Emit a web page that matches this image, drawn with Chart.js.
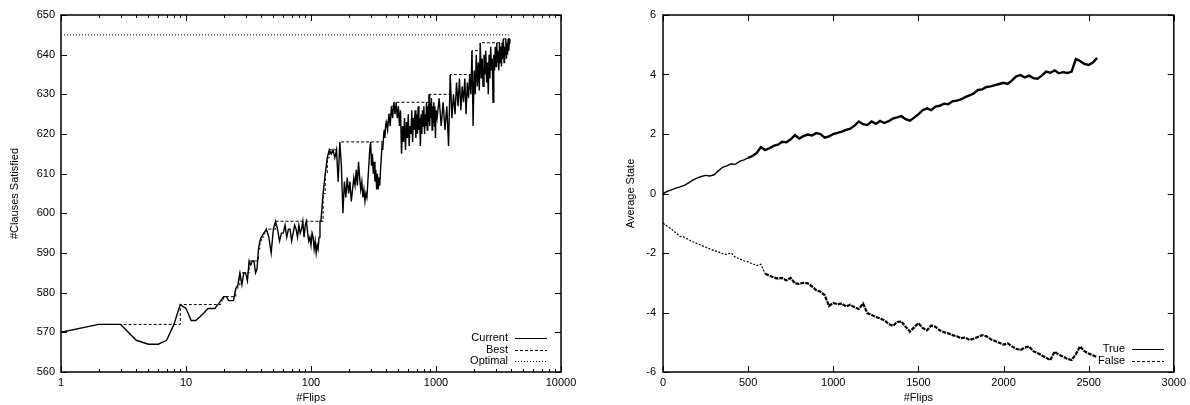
<!DOCTYPE html>
<html><head><meta charset="utf-8">
<script src="https://cdn.jsdelivr.net/npm/chart.js@4.4.0/dist/chart.umd.min.js"></script>
<style>
html,body{margin:0;padding:0;background:#fff;}
#wrap{position:relative;width:1190px;height:405px;overflow:hidden;}
#c1{position:absolute;left:0;top:0;}
#c2{position:absolute;left:600px;top:0;}
</style></head><body>
<div id="wrap"><canvas id="c1" width="595" height="405"></canvas><canvas id="c2" width="590" height="405"></canvas></div>
<script>
// ---------- Left chart data ----------
const currentFlips = [1,2,3,4,5,6,7,8,9,10,11,12,13,14,15,16,17,18,19,20,21,22,23,24,25,26,27,28,29,30,31,32,33,34,35,36,37,38,39,40,
42,44,46,48,50,52,54,56,58,60,62,64,66,68,70,72,74,76,78,80,82,84,86,88,90,92,94,96,98,100,102,104,106,108,110,112,114,116,118,120,
125,130,135,140,145,150,155,160,165,170,175,180,185,190,195,200,205,210,215,220,225,230,235,240,245,250,255,260,265,270,275,280,285,290,295,300,305,310,315,320,325,330,335,340,345,350,355,360,365,370,375,380,385,390,395,400,
410,420,430,440,450,460,470,480,490,500,510,520,530,540,550,560,570,580,590,600,610,620,630,640,650,660,670,680,690,700,710,720,730,740,750,760,770,780,790,800,810,820,830,840,850,860,870,880,890,900,910,920,930,940,950,960,970,980,990,1000,
1020,1060,1100,1140,1180,1220,1260,1300,1340,1380,1420,1460,1500,1540,1580,1620,1660,1700,1740,1780,1820,1860,1900,1940,1980,2020,2060,2100,2140,2180,2220,2260,2300,2340,2380,2420,2460,2500,2540,2580,2620,2660,2700,2740,2780,2820,2860,2900,2940,2980,3020,3060,3100,3140,3180,3220,3260,3300,3340,3380,3420,3460,3500,3540,3580,3620,3660,3700,3740,3780,3820,3860,3900];
const currentValues = [570,572,572,568,567,567,568,572,577,576,573,573,574,575,576,576,576,577,578,579,579,578,578,578,581,582,585,582,585,585,583,588,587,588,588,585,586,591,593,594,
595,596,594,590,596,598,596,593,595,595,597,594,596,596,593,595,597,596,594,597,595,596,598,594,597,598,595,593,594,592,595,594,591,593,590,592,591,594,598,598,
605,610,614,616,615,616,614,616,608,618,612,600,608,604,609,605,608,603,606,609,607,611,607,613,609,606,608,604,606,603,605,604,608,612,616,618,612,615,610,613,608,611,606,610,606,609,607,611,614,617,616,619,621,619,622,623,
621,625,622,627,624,628,625,628,624,627,622,626,615,622,618,624,616,623,619,625,617,622,620,626,618,624,621,626,619,625,620,627,621,624,617,625,620,626,622,627,620,625,622,628,621,627,623,630,622,628,624,629,621,627,623,628,622,627,619,626,
624,629,622,628,621,627,617,635,624,630,625,633,627,634,626,632,628,634,625,633,629,635,630,641,622,636,630,640,632,638,631,643,634,639,632,640,635,641,633,638,630,640,634,642,636,639,628,640,636,642,637,643,638,641,636,643,638,642,637,643,639,644,638,642,640,644,639,643,640,644,641,643,644];
const bestFlips  = [2,9,19,20,25,26,27,32,38,39,40,42,44,52,125,130,135,140,170,380,385,395,400,420,440,460,880,1300,1940,2260,3460,3900];
const bestValues = [572,577,578,579,581,582,585,588,591,593,594,595,596,598,605,610,614,616,618,619,621,622,623,625,627,628,630,635,641,643,644,644];
const optimalFlips  = [1,3900];
const optimalValues = [645,645];
const leftXMajor = [1,10,100,1000,10000];
const leftXMinor = [2,3,4,5,6,7,8,9,20,30,40,50,60,70,80,90,200,300,400,500,600,700,800,900,2000,3000,4000,5000,6000,7000,8000,9000];
const leftYTicks = [560,570,580,590,600,610,620,630,640,650];

// ---------- Right chart data ----------
const stateFlips = [0,25,50,75,100,125,150,175,200,225,250,275,300,325,350,375,400,425,450,475,500,525,550,575,600,625,650,675,700,725,750,775,800,825,850,875,900,925,950,975,1000,1025,1050,1075,1100,1125,1150,1175,1200,1225,1250,1275,1300,1325,1350,1375,1400,1425,1450,1475,1500,1525,1550,1575,1600,1625,1650,1675,1700,1725,1750,1775,1800,1825,1850,1875,1900,1925,1950,1975,2000,2025,2050,2075,2100,2125,2150,2175,2200,2225,2250,2275,2300,2325,2350,2375,2400,2425,2450,2475,2500,2525,2550];
const trueValues = [0.00,0.07,0.12,0.18,0.22,0.27,0.36,0.45,0.52,0.57,0.61,0.59,0.63,0.76,0.88,0.93,1.00,0.98,1.08,1.13,1.20,1.26,1.36,1.56,1.46,1.52,1.60,1.64,1.74,1.72,1.82,1.96,1.85,1.93,1.98,1.95,2.03,2.00,1.88,1.92,2.00,2.04,2.08,2.14,2.18,2.28,2.42,2.33,2.30,2.42,2.34,2.44,2.37,2.43,2.52,2.56,2.60,2.50,2.45,2.55,2.66,2.80,2.86,2.80,2.92,2.95,3.02,3.00,3.10,3.12,3.16,3.24,3.30,3.36,3.48,3.50,3.58,3.60,3.64,3.68,3.72,3.68,3.80,3.94,3.98,3.90,3.96,3.88,3.86,3.96,4.10,4.06,4.14,4.04,4.08,4.05,4.10,4.52,4.45,4.36,4.32,4.40,4.56];
const falseValues = [-1.00,-1.10,-1.20,-1.32,-1.44,-1.47,-1.55,-1.62,-1.68,-1.74,-1.80,-1.86,-1.92,-1.96,-2.02,-2.05,-2.00,-2.14,-2.20,-2.26,-2.30,-2.36,-2.42,-2.38,-2.70,-2.76,-2.82,-2.86,-2.84,-2.92,-2.84,-3.02,-3.04,-3.00,-3.02,-3.12,-3.25,-3.30,-3.42,-3.78,-3.68,-3.72,-3.70,-3.80,-3.74,-3.82,-3.88,-3.70,-4.02,-4.08,-4.15,-4.20,-4.26,-4.38,-4.45,-4.32,-4.30,-4.48,-4.64,-4.50,-4.36,-4.52,-4.60,-4.44,-4.48,-4.60,-4.66,-4.70,-4.76,-4.80,-4.86,-4.84,-4.92,-4.88,-4.82,-4.76,-4.80,-4.90,-4.96,-5.02,-5.08,-5.04,-5.14,-5.22,-5.26,-5.18,-5.14,-5.30,-5.36,-5.44,-5.52,-5.60,-5.32,-5.42,-5.48,-5.56,-5.60,-5.40,-5.14,-5.30,-5.38,-5.44,-5.50];
const rightXTicks = [0,500,1000,1500,2000,2500,3000];
const rightYTicks = [-6,-4,-2,0,2,4,6];

// ---------- helpers ----------
const FONT = '"Liberation Sans", Arial, Helvetica, sans-serif';
Chart.defaults.font.family = FONT;
Chart.defaults.font.size = 11;
Chart.defaults.color = '#000';
const pts = (xs, ys) => xs.map((x, i) => ({x: x, y: ys[i]}));

const gnuFrame = {
  id: 'gnuFrame',
  afterDatasetsDraw(chart, args, o) {
    const {ctx, chartArea: a} = chart;
    const xs = chart.scales.x, ys = chart.scales.y;
    ctx.save();
    ctx.strokeStyle = '#000';
    ctx.setLineDash([]);
    ctx.lineWidth = 1;
    ctx.beginPath();
    const vt = (v, L) => {
      const p = Math.round(xs.getPixelForValue(v)) + 0.5;
      ctx.moveTo(p, a.bottom); ctx.lineTo(p, a.bottom - L);
      ctx.moveTo(p, a.top); ctx.lineTo(p, a.top + L);
    };
    o.xMajor.forEach(v => vt(v, 6));
    (o.xMinor || []).forEach(v => vt(v, 3));
    o.yTicks.forEach(v => {
      const p = Math.round(ys.getPixelForValue(v)) + 0.5;
      ctx.moveTo(a.left, p); ctx.lineTo(a.left + 6, p);
      ctx.moveTo(a.right, p); ctx.lineTo(a.right - 6, p);
    });
    ctx.stroke();
    ctx.lineWidth = 1.5;
    ctx.strokeRect(a.left, a.top, a.right - a.left, a.bottom - a.top);
    // legend
    ctx.font = '11px ' + FONT;
    ctx.fillStyle = '#000';
    ctx.textAlign = 'right';
    ctx.textBaseline = 'middle';
    chart.data.datasets.forEach((ds, i) => {
      const y = o.legend.y + i * o.legend.dy;
      ctx.fillText(ds.label, o.legend.x, y);
      ctx.lineWidth = 1;
      ctx.setLineDash(o.legend.dashes[i]);
      ctx.beginPath();
      ctx.moveTo(o.legend.x + 7, Math.round(y) + 0.5);
      ctx.lineTo(o.legend.x + 39, Math.round(y) + 0.5);
      ctx.stroke();
    });
    ctx.restore();
  }
};

function commonScales(xCfg, yCfg, yTitle, yTitlePad, yWidth) {
  return {
    x: Object.assign({
      grid: {display: false, drawTicks: false},
      border: {display: false},
      ticks: {padding: 4, maxRotation: 0, autoSkip: false, color: '#000', font: {size: 11}, callback: (v) => String(v)},
      title: {display: true, text: '#Flips', padding: {top: 0, bottom: 0}, color: '#000', font: {size: 11}},
      afterFit(s) { s.height = 33; }
    }, xCfg),
    y: Object.assign({
      grid: {display: false, drawTicks: false},
      border: {display: false},
      ticks: {padding: 6, color: '#000', font: {size: 11}, callback: (v) => String(v)},
      title: {display: true, text: yTitle, padding: {top: yTitlePad, bottom: 0}, color: '#000', font: {size: 11}},
      afterFit(s) { s.width = yWidth; }
    }, yCfg)
  };
}

// ---------- Left chart ----------
const leftScales = commonScales(
  {type: 'logarithmic', min: 1, max: 10000,
   afterBuildTicks(s) { s.ticks = leftXMajor.map(v => ({value: v, major: true})); }},
  {type: 'linear', min: 560, max: 650,
   afterBuildTicks(s) { s.ticks = leftYTicks.map(v => ({value: v})); }},
  '#Clauses Satisfied', 8, 61);

new Chart(document.getElementById('c1'), {
  type: 'line',
  data: {
    datasets: [
      {label: 'Current', data: pts(currentFlips, currentValues), borderColor: '#000', borderWidth: 1.4, pointRadius: 0, tension: 0},
      {label: 'Best', data: pts(bestFlips, bestValues), borderColor: '#000', borderWidth: 1, borderDash: [3, 2], pointRadius: 0, stepped: 'before'},
      {label: 'Optimal', data: pts(optimalFlips, optimalValues), borderColor: '#000', borderWidth: 1, borderDash: [1, 2], pointRadius: 0}
    ]
  },
  options: {
    responsive: false, animation: false, devicePixelRatio: 1,
    layout: {padding: {left: 0, top: 15, right: 34, bottom: 0}},
    plugins: {
      legend: {display: false}, tooltip: {enabled: false},
      gnuFrame: {xMajor: leftXMajor, xMinor: leftXMinor, yTicks: leftYTicks,
        legend: {x: 508, y: 338, dy: 11.5, dashes: [[], [3, 2], [1, 2]]}}
    },
    scales: leftScales
  },
  plugins: [gnuFrame]
});

// ---------- Right chart ----------
const rightScales = commonScales(
  {type: 'linear', min: 0, max: 3000,
   afterBuildTicks(s) { s.ticks = rightXTicks.map(v => ({value: v})); }},
  {type: 'linear', min: -6, max: 6,
   afterBuildTicks(s) { s.ticks = rightYTicks.map(v => ({value: v})); }},
  'Average State', 24, 63);
rightScales.y.ticks.padding = 7;

new Chart(document.getElementById('c2'), {
  type: 'line',
  data: {
    datasets: [
      {label: 'True', data: pts(stateFlips, trueValues), borderColor: '#000', borderWidth: 2, pointRadius: 0, tension: 0,
       segment: {borderWidth: c => c.p0.parsed.x < 500 ? 1.4 : 2.4}},
      {label: 'False', data: pts(stateFlips, falseValues), borderColor: '#000', borderWidth: 2, borderDash: [3, 1.5], pointRadius: 0, tension: 0,
       segment: {borderWidth: c => c.p0.parsed.x < 600 ? 1.2 : 2.2, borderDash: c => c.p0.parsed.x < 600 ? [2, 1.5] : [4, 1]}}
    ]
  },
  options: {
    responsive: false, animation: false, devicePixelRatio: 1,
    layout: {padding: {left: 0, top: 15, right: 13, bottom: 0}},
    plugins: {
      legend: {display: false}, tooltip: {enabled: false},
      gnuFrame: {xMajor: rightXTicks, yTicks: rightYTicks,
        legend: {x: 525, y: 349, dy: 12, dashes: [[], [3, 2]]}}
    },
    scales: rightScales
  },
  plugins: [gnuFrame]
});
</script>
</body></html>
